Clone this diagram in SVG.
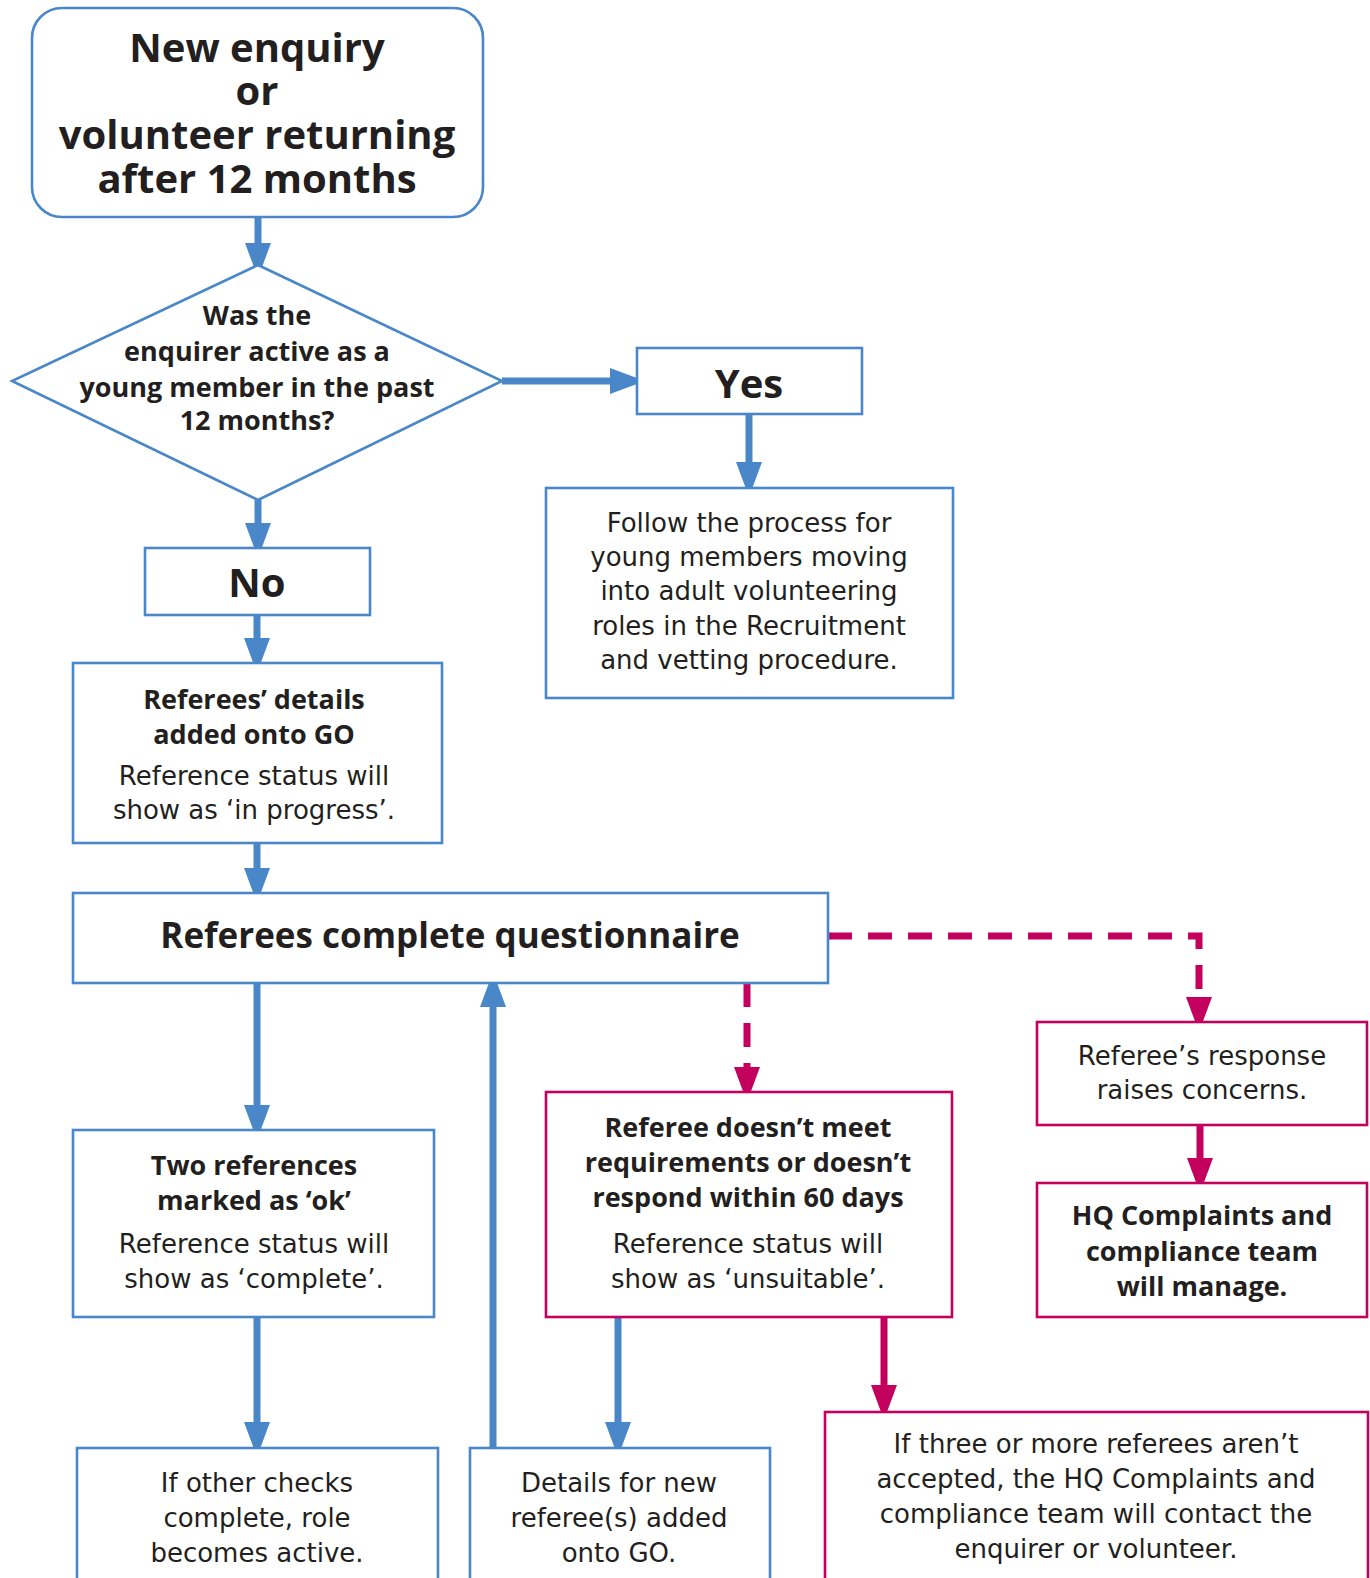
<svg xmlns="http://www.w3.org/2000/svg" width="1370" height="1578" viewBox="0 0 1370 1578">
<defs>
<style>
.bx{fill:#fff;stroke:#4a87c8;stroke-width:2.6}
.mx{fill:#fff;stroke:#c4005f;stroke-width:2.6}
.b{font-family:"Open Sans","DejaVu Sans",sans-serif;font-weight:bold;fill:#231f20;text-anchor:middle}
.r{font-family:"DejaVu Sans","Open Sans",sans-serif;font-size:26px;fill:#231f20;text-anchor:middle}
.cb{fill:none;stroke:#4a87c8;stroke-width:7}
.cm{fill:none;stroke:#c4005f;stroke-width:7}
.dm{fill:none;stroke:#c4005f;stroke-width:7;stroke-dasharray:24 16}
</style>
<marker id="ab" markerUnits="userSpaceOnUse" markerWidth="36" markerHeight="27" refX="5" refY="13" orient="auto" overflow="visible"><path d="M0,0 L35,13 L0,26 Z" fill="#4a87c8"/></marker>
<marker id="am" markerUnits="userSpaceOnUse" markerWidth="36" markerHeight="27" refX="5" refY="13" orient="auto" overflow="visible"><path d="M0,0 L35,13 L0,26 Z" fill="#c4005f"/></marker>
</defs>
<rect width="1370" height="1578" fill="#fff"/>
<g id="connectors">
<path class="cb" d="M258,217 V248" marker-end="url(#ab)"/>
<path class="cb" d="M502,381 H615" marker-end="url(#ab)"/>
<path class="cb" d="M749,414 V467" marker-end="url(#ab)"/>
<path class="cb" d="M258,500 V528" marker-end="url(#ab)"/>
<path class="cb" d="M257,615 V643" marker-end="url(#ab)"/>
<path class="cb" d="M257,843 V873" marker-end="url(#ab)"/>
<path class="cb" d="M257,983 V1110" marker-end="url(#ab)"/>
<path class="cb" d="M257,1317 V1427" marker-end="url(#ab)"/>
<path class="cb" d="M493,1448 V1002" marker-end="url(#ab)"/>
<path class="cb" d="M618,1317 V1427" marker-end="url(#ab)"/>
<path class="cm" d="M884,1317 V1390" marker-end="url(#am)"/>
<path class="dm" d="M747,983 V1072" marker-end="url(#am)"/>
<path class="dm" d="M828,936 H1199 V1002" marker-end="url(#am)"/>
<path class="cm" d="M1200,1125 V1163" marker-end="url(#am)"/>
</g>
<g id="start">
<rect class="bx" x="32" y="8" width="451" height="209" rx="30"/>
<text class="b" font-size="40" x="257"><tspan x="257" y="62">New enquiry</tspan><tspan x="257" y="105">or</tspan><tspan x="257" y="149">volunteer returning</tspan><tspan x="257" y="193">after 12 months</tspan></text>
</g>
<g id="decision">
<polygon class="bx" points="258,265 502,381 258,500 12,381"/>
<text class="b" font-size="27"><tspan x="257" y="325">Was the</tspan><tspan x="257" y="361">enquirer active as a</tspan><tspan x="257" y="397">young member in the past</tspan><tspan x="257" y="430">12 months?</tspan></text>
</g>
<g id="yes">
<rect class="bx" x="637" y="348" width="225" height="66"/>
<text class="b" font-size="40" x="749" y="398">Yes</text>
</g>
<g id="follow">
<rect class="bx" x="546" y="488" width="407" height="210"/>
<text class="r"><tspan x="749" y="532">Follow the process for</tspan><tspan x="749" y="566">young members moving</tspan><tspan x="749" y="600">into adult volunteering</tspan><tspan x="749" y="635">roles in the Recruitment</tspan><tspan x="749" y="669">and vetting procedure.</tspan></text>
</g>
<g id="no">
<rect class="bx" x="145" y="548" width="225" height="67"/>
<text class="b" font-size="40" x="257" y="597">No</text>
</g>
<g id="details-added">
<rect class="bx" x="73" y="663" width="369" height="180"/>
<text class="b" font-size="27"><tspan x="254" y="709">Referees’ details</tspan><tspan x="254" y="744">added onto GO</tspan></text>
<text class="r"><tspan x="254" y="785">Reference status will</tspan><tspan x="254" y="819">show as ‘in progress’.</tspan></text>
</g>
<g id="questionnaire">
<rect class="bx" x="73" y="893" width="755" height="90"/>
<text class="b" font-size="35" x="450" y="948">Referees complete questionnaire</text>
</g>
<g id="two-refs">
<rect class="bx" x="73" y="1130" width="361" height="187"/>
<text class="b" font-size="27"><tspan x="254" y="1175">Two references</tspan><tspan x="254" y="1210">marked as ‘ok’</tspan></text>
<text class="r"><tspan x="254" y="1253">Reference status will</tspan><tspan x="254" y="1288">show as ‘complete’.</tspan></text>
</g>
<g id="role-active">
<rect class="bx" x="77" y="1448" width="361" height="200"/>
<text class="r"><tspan x="257" y="1492">If other checks</tspan><tspan x="257" y="1527">complete, role</tspan><tspan x="257" y="1562">becomes active.</tspan></text>
</g>
<g id="new-referee">
<rect class="bx" x="470" y="1448" width="300" height="200"/>
<text class="r"><tspan x="619" y="1492">Details for new</tspan><tspan x="619" y="1527">referee(s) added</tspan><tspan x="619" y="1562">onto GO.</tspan></text>
</g>
<g id="unsuitable">
<rect class="mx" x="546" y="1092" width="406" height="225"/>
<text class="b" font-size="27"><tspan x="748" y="1137">Referee doesn’t meet</tspan><tspan x="748" y="1172">requirements or doesn’t</tspan><tspan x="748" y="1207">respond within 60 days</tspan></text>
<text class="r"><tspan x="748" y="1253">Reference status will</tspan><tspan x="748" y="1288">show as ‘unsuitable’.</tspan></text>
</g>
<g id="concerns">
<rect class="mx" x="1037" y="1022" width="330" height="103"/>
<text class="r"><tspan x="1202" y="1065">Referee’s response</tspan><tspan x="1202" y="1099">raises concerns.</tspan></text>
</g>
<g id="hq-manage">
<rect class="mx" x="1037" y="1183" width="330" height="134"/>
<text class="b" font-size="27"><tspan x="1202" y="1225">HQ Complaints and</tspan><tspan x="1202" y="1261">compliance team</tspan><tspan x="1202" y="1296">will manage.</tspan></text>
</g>
<g id="three-referees">
<rect class="mx" x="825" y="1412" width="543" height="200"/>
<text class="r"><tspan x="1096" y="1453">If three or more referees aren’t</tspan><tspan x="1096" y="1488">accepted, the HQ Complaints and</tspan><tspan x="1096" y="1523">compliance team will contact the</tspan><tspan x="1096" y="1558">enquirer or volunteer.</tspan></text>
</g>
</svg>
